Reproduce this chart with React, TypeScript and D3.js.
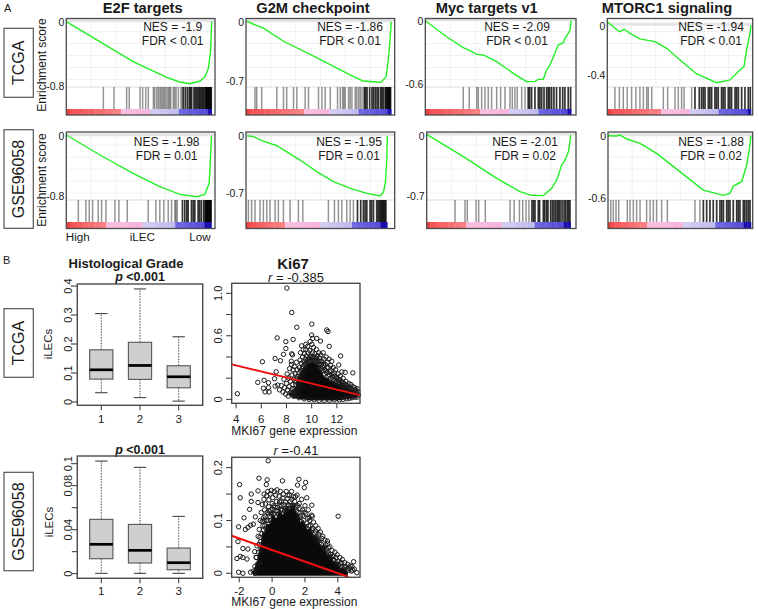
import React from 'react';
import * as d3 from 'd3';

const FONT = '"Liberation Sans", Arial, sans-serif';

// ---- GSEA panels: running score as [rank %, score] ----
const e2fTcga = [[0, 0], [23, -0.249], [46, -0.497], [69, -0.692], [78, -0.75], [85, -0.771], [92, -0.738], [95.4, -0.684], [97.7, -0.58], [99.3, -0.352], [100, 0]];
const g2mTcga = [[0, 0.01], [4.8, -0.027], [11.7, -0.074], [25.5, -0.228], [48.9, -0.428], [71.6, -0.629], [80.5, -0.7], [90.1, -0.712], [92.9, -0.715], [96.3, -0.653], [97.4, -0.535], [98.6, -0.334], [100, 0]];
const mycTcga = [[0, 0], [14.6, -0.152], [26, -0.256], [30.6, -0.284], [35.2, -0.319], [39.7, -0.325], [48.9, -0.388], [60.3, -0.499], [69.4, -0.578], [75.1, -0.575], [77.4, -0.556], [80.8, -0.556], [83.1, -0.467], [85.4, -0.42], [88.8, -0.309], [91.1, -0.231], [94.5, -0.209], [95.6, -0.167], [97.9, -0.12], [99.1, -0.088], [100, 0]];
const mtorTcga = [[0, 0.029], [4.2, -0.011], [8.4, -0.051], [10, -0.043], [11.8, -0.032], [15.8, -0.064], [22.7, -0.109], [33.2, -0.131], [41.3, -0.184], [50.6, -0.277], [62.2, -0.389], [76.1, -0.459], [85.4, -0.437], [92.3, -0.357], [95.1, -0.331], [96.9, -0.197], [99.3, -0.064], [100, 0]];
const e2fGse = [[0, 0.009], [23.2, -0.256], [46, -0.5], [64.4, -0.676], [78.2, -0.778], [89.7, -0.809], [95.4, -0.778], [98.4, -0.632], [99.3, -0.3], [100, 0]];
const g2mGse = [[0.9, 0], [5.2, -0.012], [12.3, -0.066], [21.8, -0.123], [38.3, -0.299], [50.1, -0.442], [61.9, -0.565], [73.8, -0.647], [85.6, -0.708], [95, -0.741], [97.4, -0.688], [98.7, -0.565], [99.7, -0.278], [100, 0]];
const mycGse = [[0, 0.008], [25.5, -0.249], [48.6, -0.497], [64.8, -0.65], [72.9, -0.692], [81, -0.696], [86.8, -0.612], [90.3, -0.516], [93.8, -0.344], [96.1, -0.287], [98.4, -0.191], [99.5, -0.077], [100, 0]];
const mtorGse = [[0, 0], [6.1, -0.003], [8.4, 0.006], [13.1, -0.032], [22.4, -0.074], [34, -0.171], [50.3, -0.348], [66.6, -0.526], [80.6, -0.577], [85.3, -0.558], [87.6, -0.487], [93.5, -0.445], [97, -0.284], [98.9, -0.123], [100, 0]];

// gene hit ranks, the right ends overlap until they turn black
const e2fTcgaHits = [25.5, 32.8, 41.5, 43.3, 50.7, 52.5, 54.6, 56.4, 59.9, 60.8, 62.2, 63.3, 64.4, 65.3, 66.3, 67.2, 68.1, 69.2, 70.2, 71, 71.8, 73.6, 74.5, 75.5, 77.1, 78.9, 79.8, 80.5, 81.9, 83.3, 84.6, 85.4, 86.2, 87.8, 88.7, 89.7, 90.6, 91.5, 92.2, 93.1, 93.9, 94.7, 95.6, 96.1, 96.6, 97, 97.5, 98, 98.4, 98.9, 99.3, 99.7];
const g2mTcgaHits = [6.2, 7.4, 10.8, 21.2, 25.8, 28, 32.7, 35, 40.7, 43, 49.9, 52.2, 54.5, 58, 63, 64.9, 66.5, 67.4, 68.3, 70.6, 71.7, 72.9, 75.2, 76.2, 77.5, 78.6, 79.8, 81.4, 82.3, 83.3, 85.1, 86.7, 87.8, 89, 90.2, 91.3, 92.8, 93.6, 94.5, 95.8, 96.4, 97, 97.6, 98, 98.6, 99, 99.5];
const mycTcgaHits = [26, 30.1, 35.2, 36.3, 38.6, 40.9, 43.1, 45.4, 48.9, 51.6, 54.6, 58, 59.6, 61.4, 63, 66, 68.3, 70.5, 71.5, 72.8, 75.1, 77.4, 78.5, 79.7, 81.3, 83.1, 84.2, 85.2, 86.5, 88.1, 89.9, 92.2, 94.1, 95.6, 97.9, 99.5];
const mtorTcgaHits = [5.3, 8.4, 11.1, 13.9, 16.9, 19.9, 22.7, 25.1, 27.4, 28.5, 30.9, 39, 42, 47.1, 49.4, 51.7, 53.4, 58.7, 61, 64, 65.6, 66.8, 68, 70.3, 71.4, 72.6, 74.9, 76, 77.2, 79.5, 80.6, 81.9, 84.2, 85.3, 86.5, 88.9, 90, 91.2, 93.5, 95.8, 98.1, 99.5];
const e2fGseHits = [8.3, 13.5, 15.8, 18.1, 22, 24.3, 27.3, 33.5, 36.2, 42, 56.4, 61.7, 64.4, 67.2, 70.2, 72.5, 74.8, 75.5, 76.4, 80, 81.6, 83, 83.9, 86.2, 87.4, 88.5, 90.8, 91.9, 93.1, 94.7, 95.6, 96.2, 96.6, 97, 97.5, 98, 98.4, 98.9, 99.3, 99.7];
const g2mGseHits = [1.7, 4, 6.4, 9.9, 12.3, 14.7, 17, 20.6, 22.9, 26.5, 31.2, 37.1, 40.2, 58.3, 62.6, 65.4, 67.8, 71.3, 73.7, 76, 78.9, 81.2, 83.1, 84.3, 85.5, 87.8, 88.9, 90.2, 92.5, 93.5, 94.5, 95.3, 96, 96.8, 97.5, 98.2, 99];
const mycGseHits = [19.7, 26.6, 28.2, 34.3, 36.1, 40.7, 57.9, 60.7, 64.4, 66.7, 69, 71, 73.1, 74.2, 75.2, 77.5, 78.4, 81, 82, 83.3, 84.2, 86.1, 87.3, 88.4, 89.6, 90.7, 91.7, 92.6, 94, 95.4, 96.5, 97.7, 98.6, 99.5];
const mtorGseHits = [1.9, 3.7, 5.6, 7.5, 13.5, 15.4, 17.7, 20, 22.4, 27, 29.4, 31.7, 34, 37.5, 41.5, 60.8, 64.3, 66.7, 69, 71.3, 73.6, 76, 78.3, 79.5, 80.7, 83, 84.1, 85.3, 87.6, 90, 91.1, 92.3, 94.6, 95.7, 97, 98.2, 99.3];

// ---- boxplots: low whisker, q1, median, q3, high whisker ----
const gradeLabels = ['1', '2', '3'];
const gradeTcga = [[0.032, 0.079, 0.111, 0.18, 0.305], [0.015, 0.078, 0.126, 0.206, 0.39], [0.003, 0.049, 0.087, 0.125, 0.225]];
const gradeGse = [[0.0003, 0.0136, 0.0267, 0.0494, 0.1024], [0.0003, 0.0097, 0.0212, 0.0448, 0.0967], [0.0003, 0.0036, 0.01, 0.0233, 0.0521]];

// ---- scatter: outliers, then the crowded fringe, read as [x, y] ----
const ki67TcgaLoose = [[4.1, 0.053], [8.03, 1.05], [8.42, 0.82], [8.82, 0.68], [10.01, 0.71], [11.2, 0.655], [11.3, 0.64], [7.26, 0.58], [7.95, 0.545], [8.53, 0.565], [6.09, 0.355], [7.1, 0.385], [7.52, 0.365], [7.76, 0.425], [7.95, 0.48], [8.42, 0.43], [8.48, 0.42], [5.72, 0.16], [6.22, 0.18], [6.57, 0.157], [6.17, 0.105], [6.3, 0.07], [6.62, 0.07], [6.57, 0.11], [7.05, 0.195], [7.18, 0.26], [7.1, 0.125], [7.31, 0.135], [12.3, 0.41], [11.4, 0.5], [12.15, 0.325], [13.27, 0.25], [12.66, 0.255], [12.4, 0.26], [10, 0.607], [10.08, 0.575], [10.4, 0.575], [10.7, 0.55], [9.88, 0.545], [9.54, 0.52], [9.2, 0.505]];
const ki67TcgaDense = [
  [7.45, 0.09], [7.6, 0.13], [7.72, 0.07], [7.8, 0.19], [7.85, 0.11], [7.93, 0.05], [8, 0.15], [8.05, 0.24], [8.08, 0.09], [8.14, 0.03], [8.18, 0.2], [8.2, 0.12], [8.25, 0.29], [8.3, 0.06], [8.33, 0.17], [8.38, 0.36], [8.4, 0.33], [8.44, 0.23], [8.46, 0.1], [8.5, 0.14], [8.52, 0.28], [8.58, 0.19], [8.6, 0.04], [8.62, 0.31], [8.66, 0.08], [8.7, 0.24], [8.74, 0.14], [8.8, 0.35], [8.82, 0.2], [8.85, 0.28], [8.9, 0.11], [8.93, 0.05], [8.97, 0.17], [9, 0.25], [9.03, 0.3], [9.07, 0.37], [9.12, 0.44], [9.15, 0.22], [9.2, 0.34], [9.25, 0.29], [9.28, 0.4], [9.33, 0.47], [9.38, 0.36], [9.42, 0.43], [9.5, 0.38], [9.53, 0.47], [9.58, 0.41], [9.63, 0.36], [9.68, 0.5], [9.72, 0.44], [9.78, 0.39], [9.85, 0.46], [9.9, 0.41], [9.95, 0.37], [10.02, 0.52], [10.05, 0.44], [10.1, 0.4], [10.15, 0.49], [10.2, 0.37], [10.27, 0.43], [10.33, 0.39], [10.38, 0.47], [10.45, 0.41], [10.52, 0.36], [10.56, 0.44], [10.62, 0.39], [10.68, 0.33], [10.72, 0.42], [10.8, 0.36], [10.85, 0.31], [10.92, 0.44], [10.98, 0.38], [11.03, 0.28], [11.08, 0.33], [11.15, 0.4], [11.2, 0.25], [11.25, 0.35], [11.33, 0.3], [11.38, 0.38], [11.42, 0.23], [11.5, 0.32], [11.55, 0.27], [11.6, 0.36], [11.65, 0.21], [11.72, 0.3], [11.78, 0.25], [11.85, 0.18], [11.9, 0.28], [11.96, 0.21], [12.03, 0.17], [12.1, 0.24], [12.15, 0.19], [12.22, 0.15], [12.28, 0.22], [12.35, 0.17], [12.42, 0.13], [12.5, 0.2], [12.57, 0.15], [12.65, 0.11], [12.72, 0.17], [12.8, 0.13], [12.88, 0.1], [12.95, 0.15], [13.05, 0.11], [13.12, 0.14], [13.2, 0.09], [13.28, 0.12], [13.35, 0.07], [13.42, 0.11], [13.5, 0.09], [13.56, 0.05], [13.62, 0.1], [13.68, 0.07], [13.72, 0.04], [13.6, 0.02], [13.4, 0.02], [13.2, 0.015], [13, 0.01], [12.8, 0.005], [12.5, 0], [12.2, -0.005], [11.8, -0.005], [11.4, -0.008], [11, -0.01], [10.6, -0.01], [10.2, -0.005], [9.8, 0], [9.4, 0.005], [9, 0.015], [8.7, 0.03],
  [8.6, 0.1], [8.75, 0.17], [8.85, 0.08], [8.9, 0.22], [8.95, 0.14], [9.05, 0.2], [9.1, 0.12], [9.15, 0.27], [9.22, 0.24], [9.3, 0.31], [9.35, 0.26], [9.45, 0.33], [9.5, 0.29], [9.55, 0.34], [9.65, 0.33], [9.7, 0.37], [9.82, 0.36], [9.9, 0.36], [9.97, 0.4], [10.08, 0.37], [10.18, 0.4], [10.25, 0.36], [10.35, 0.36], [10.42, 0.37], [10.5, 0.33], [10.58, 0.3], [10.65, 0.36], [10.75, 0.29], [10.78, 0.33], [10.88, 0.27], [10.95, 0.32], [11, 0.24], [11.12, 0.27], [11.22, 0.3], [11.3, 0.22], [11.45, 0.26], [11.52, 0.2], [11.62, 0.24], [11.7, 0.19], [11.82, 0.22], [11.92, 0.16], [12, 0.2], [12.12, 0.16], [12.25, 0.18], [12.32, 0.13], [12.45, 0.16], [12.55, 0.12], [12.68, 0.14], [12.78, 0.1], [12.9, 0.12], [13, 0.08], [13.15, 0.1], [13.25, 0.06], [13.4, 0.08], [13.55, 0.07], [8.45, 0.06], [8.55, 0.03],
];
const ki67TcgaCoreX = [8.29, 8.5, 8.69, 8.82, 8.95, 9.1, 9.27, 9.45, 9.62, 9.8, 10.01, 10.2, 10.41, 10.58, 10.75, 10.9, 11.07, 11.27, 11.47, 11.72, 12, 12.25, 12.53, 12.8, 13.06, 13.32, 13.59];
const ki67TcgaCoreLow = [0.04, 0.03, 0.025, 0.02, 0.015, 0.01, 0.008, 0.006, 0.005, 0.002, 0, 0, 0, 0, 0, 0, 0, 0, 0, 0, 0, 0.002, 0.005, 0.01, 0.015, 0.02, 0.025];
const ki67TcgaCoreHigh = [0.057, 0.06, 0.104, 0.12, 0.198, 0.2, 0.277, 0.29, 0.33, 0.33, 0.349, 0.335, 0.33, 0.285, 0.261, 0.215, 0.198, 0.19, 0.167, 0.165, 0.142, 0.138, 0.12, 0.112, 0.088, 0.072, 0.047];
const ki67TcgaFit = [[3.65, 0.33], [13.84, 0.04]];

const ki67GseLoose = [[-0.24, 0.213], [-0.8, 0.18], [-0.3, 0.177], [-0.35, 0.168], [-1.98, 0.168], [-1.94, 0.143], [0.63, 0.175], [1.63, 0.178], [2.04, 0.172], [1.55, 0.167], [1.96, 0.162], [2.11, 0.143], [2.42, 0.129], [2.45, 0.108], [4.02, 0.108], [3.37, 0.061], [-1.71, 0.105], [-2.04, 0.088], [-1.63, 0.083], [-1.47, 0.087], [-1.31, 0.091], [-1.14, 0.093], [-1.37, 0.121], [-1.27, 0.15], [-1.27, 0.136], [-0.86, 0.156], [-0.86, 0.134], [-1.02, 0.107], [-0.49, 0.15], [-2.08, 0.06], [-1.78, 0.047], [-1.47, 0.046], [-1.06, 0.041], [-2.14, 0.028], [-1.94, 0.032], [-1.78, 0.03], [-1.53, 0.027], [-2.04, 0.002], [-1.78, 0], [-1.31, 0.002], [-1.06, 0.001], [4.96, 0.022], [5.16, 0.001], [4.86, 0.013]];
const ki67GseDense = [
  [-1.15, 0.004], [-1.05, 0.013], [-0.98, 0.03], [-0.92, 0.052], [-0.9, 0.01], [-0.85, 0.07], [-0.82, 0.04], [-0.78, 0.083], [-0.75, 0.02], [-0.72, 0.1], [-0.7, 0.06], [-0.66, 0.115], [-0.62, 0.075], [-0.6, 0.13], [-0.56, 0.09], [-0.52, 0.105], [-0.5, 0.14], [-0.46, 0.12], [-0.44, 0.09], [-0.4, 0.131], [-0.36, 0.1], [-0.33, 0.147], [-0.3, 0.115], [-0.26, 0.155], [-0.22, 0.126], [-0.2, 0.139], [-0.15, 0.108], [-0.12, 0.15], [-0.08, 0.12], [-0.05, 0.157], [0, 0.132], [0.04, 0.143], [0.08, 0.113], [0.13, 0.155], [0.18, 0.125], [0.22, 0.148], [0.27, 0.136], [0.3, 0.158], [0.36, 0.118], [0.42, 0.146], [0.47, 0.128], [0.5, 0.155], [0.56, 0.137], [0.62, 0.12], [0.68, 0.15], [0.72, 0.13], [0.8, 0.122], [0.86, 0.155], [0.92, 0.141], [0.98, 0.13], [1.05, 0.148], [1.1, 0.136], [1.18, 0.155], [1.25, 0.128], [1.3, 0.145], [1.38, 0.136], [1.45, 0.125], [1.52, 0.148], [1.58, 0.115], [1.65, 0.132], [1.72, 0.108], [1.8, 0.14], [1.85, 0.12], [1.92, 0.1], [2, 0.128], [2.05, 0.113], [2.12, 0.095], [2.2, 0.12], [2.26, 0.105], [2.32, 0.09], [2.4, 0.11], [2.45, 0.082], [2.52, 0.097], [2.6, 0.076], [2.66, 0.09], [2.72, 0.07], [2.8, 0.085], [2.86, 0.062], [2.94, 0.078], [3, 0.055], [3.08, 0.07], [3.16, 0.05], [3.22, 0.063], [3.3, 0.045], [3.38, 0.056], [3.45, 0.036], [3.52, 0.05], [3.6, 0.03], [3.66, 0.043], [3.74, 0.026], [3.82, 0.04], [3.9, 0.02], [3.96, 0.035], [4.05, 0.016], [4.12, 0.03], [4.2, 0.013], [4.28, 0.026], [4.35, 0.008], [4.42, 0.02], [4.5, 0.012], [4.6, 0.017], [4.66, 0.006], [4.75, 0.014], [4.82, 0.004], [5, 0.008],
  [-0.95, 0.03], [-0.88, 0.018], [-0.8, 0.055], [-0.74, 0.068], [-0.68, 0.045], [-0.6, 0.098], [-0.54, 0.082], [-0.48, 0.1], [-0.42, 0.108], [-0.38, 0.085], [-0.28, 0.1], [-0.24, 0.112], [-0.18, 0.118], [-0.1, 0.1], [-0.03, 0.112], [0.02, 0.122], [0.1, 0.128], [0.15, 0.112], [0.24, 0.118], [0.33, 0.125], [0.4, 0.112], [0.45, 0.135], [0.52, 0.12], [0.6, 0.128], [0.66, 0.142], [0.75, 0.118], [0.82, 0.135], [0.9, 0.122], [0.95, 0.148], [1.02, 0.128], [1.14, 0.128], [1.2, 0.14], [1.33, 0.128], [1.42, 0.145], [1.48, 0.118], [1.55, 0.128], [1.62, 0.105], [1.7, 0.122], [1.76, 0.098], [1.88, 0.11], [1.95, 0.115], [2.02, 0.088], [2.15, 0.104], [2.22, 0.09], [2.3, 0.1], [2.38, 0.078], [2.48, 0.085], [2.56, 0.068], [2.64, 0.08], [2.76, 0.062], [2.84, 0.074], [2.9, 0.058], [3.03, 0.066], [3.12, 0.048], [3.26, 0.054], [3.35, 0.04], [3.42, 0.048], [3.56, 0.036], [3.7, 0.032], [3.78, 0.024], [3.88, 0.03], [4, 0.022], [4.16, 0.018], [4.24, 0.02], [4.4, 0.012], [4.55, 0.008], [4.7, 0.01], [4.9, 0.006],
];
const ki67GseCoreX = [-1.1, -0.95, -0.86, -0.75, -0.65, -0.55, -0.45, -0.3, -0.14, 0.05, 0.27, 0.47, 0.67, 0.88, 1.08, 1.27, 1.45, 1.58, 1.69, 1.9, 2.1, 2.3, 2.51, 2.7, 2.92, 3.12, 3.33, 3.53, 3.73, 3.93, 4.14, 4.35, 4.55];
const ki67GseCoreHigh = [0.003, 0.016, 0.022, 0.042, 0.05, 0.075, 0.072, 0.092, 0.09, 0.108, 0.1, 0.117, 0.106, 0.124, 0.118, 0.128, 0.112, 0.112, 0.094, 0.098, 0.08, 0.084, 0.067, 0.07, 0.05, 0.052, 0.034, 0.034, 0.02, 0.02, 0.009, 0.008, 0.001];
const ki67GseCoreFloor = -0.003;
const ki67GseFit = [[-2.46, 0.071], [4.65, -0.007]];

type Panel = {
  x0: number; x1: number; xEnd: number; row: number; title?: string; titleX?: number; curve: number[][]; hits: number[]; dark: number;
  tick: number; tickY: number; zeroY: number; nes: string; fdr: string; textX: number; bands: number[];
};

const rows = [
  { top: 18.5, hitTop: 87, barTop: 109, bottom: 115, textY: [27, 40.7] },
  { top: 132, hitTop: 200, barTop: 222, bottom: 228.5, textY: [141.7, 156] },
];

const panels: Panel[] = [
  { x0: 66.3, x1: 211.7, xEnd: 215, row: 0, title: 'E2F targets', titleX: 142.7, curve: e2fTcga, hits: e2fTcgaHits, dark: 80, tick: -0.8, tickY: 86, zeroY: 21.7, nes: 'NES = -1.9', fdr: 'FDR < 0.01', textX: 172.7, bands: [38, 57.6, 77, 96.6] },
  { x0: 246, x1: 391.3, xEnd: 394.7, row: 0, title: 'G2M checkpoint', titleX: 313, curve: g2mTcga, hits: g2mTcgaHits, dark: 80, tick: -0.7, tickY: 81, zeroY: 21.7, nes: 'NES = -1.86', fdr: 'FDR < 0.01', textX: 350, bands: [39, 58, 78, 96.7] },
  { x0: 425.3, x1: 571.3, xEnd: 576, row: 0, title: 'Myc targets v1', titleX: 486.7, curve: mycTcga, hits: mycTcgaHits, dark: 70, tick: -0.6, tickY: 84, zeroY: 20.7, nes: 'NES = -2.09', fdr: 'FDR < 0.01', textX: 517, bands: [38.6, 57.3, 76.7, 97] },
  { x0: 607.3, x1: 751, xEnd: 752.7, row: 0, title: 'MTORC1 signaling', titleX: 667, curve: mtorTcga, hits: mtorTcgaHits, dark: 60, tick: -0.4, tickY: 75.3, zeroY: 25.3, nes: 'NES = -1.94', fdr: 'FDR < 0.01', textX: 711, bands: [37.8, 57.5, 76.6, 97] },
  { x0: 66.3, x1: 211.5, xEnd: 215, row: 1, curve: e2fGse, hits: e2fGseHits, dark: 80, tick: -0.8, tickY: 196, zeroY: 135.7, nes: 'NES = -1.98', fdr: 'FDR = 0.01', textX: 166.7, bands: [27, 51.4, 76, 95.4] },
  { x0: 246, x1: 387.3, xEnd: 394.7, row: 1, curve: g2mGse, hits: g2mGseHits, dark: 78, tick: -0.7, tickY: 192.7, zeroY: 135.7, nes: 'NES = -1.95', fdr: 'FDR = 0.01', textX: 349, bands: [27.6, 52, 76, 96] },
  { x0: 426.7, x1: 570.7, xEnd: 576, row: 1, curve: mycGse, hits: mycGseHits, dark: 72, tick: -0.7, tickY: 196, zeroY: 135, nes: 'NES = -2.01', fdr: 'FDR = 0.02', textX: 525, bands: [27, 51.4, 75.9, 95.4] },
  { x0: 608, x1: 751, xEnd: 752.7, row: 1, curve: mtorGse, hits: mtorGseHits, dark: 66, tick: -0.6, tickY: 197.7, zeroY: 135.7, nes: 'NES = -1.88', fdr: 'FDR = 0.02', textX: 711, bands: [27, 51.5, 76, 95.8] },
];

const sideLabels = [
  { text: 'TCGA', x: 4, y: 28.3, w: 29.3, h: 69 },
  { text: 'GSE96058', x: 4, y: 129.7, w: 29.3, h: 98.6 },
  { text: 'TCGA', x: 4, y: 308.7, w: 29.3, h: 68.6 },
  { text: 'GSE96058', x: 4, y: 472.3, w: 29.3, h: 98.4 },
];

const Label: React.FC<{ x: number; y: number; size: number; anchor?: string; weight?: string; rotate?: boolean; children: React.ReactNode }> = ({ x, y, size, anchor = 'middle', weight, rotate, children }) => (
  <text x={x} y={y} fontSize={size} textAnchor={anchor} fontWeight={weight} dominantBaseline="central" fill="#1a1a1a"
    transform={rotate ? `rotate(-90 ${x} ${y})` : undefined}>{children}</text>
);

const GseaPanel: React.FC<{ p: Panel }> = ({ p }) => {
  const r = rows[p.row];
  const x = d3.scaleLinear().domain([0, 100]).range([p.x0, p.x1]);
  const y = d3.scaleLinear().domain([p.tick, 0]).range([p.tickY, p.zeroY]);
  const line = d3.line<number[]>().x((d) => x(d[0])).y((d) => y(d[1]));
  const [a, b, c, e] = p.bands;
  const barColor = d3.scaleLinear<string>()
    .domain([0, 2, a, a + 0.01, b, b + 0.01, c, c + 0.01, e, e + 0.01, 100])
    .range(['#dc2c2c', '#f44c4e', '#fb8486', '#f9bfe0', '#f7b4dc', '#d4d0f4', '#bcb9ee', '#6e68e2', '#524ad8', '#1a0fae', '#1a0fae']);
  const barSteps = d3.range(0, 100, 2.5);
  const gridY = d3.range(r.top + 13, r.hitTop, 12);
  const gridX = d3.range(1, 6).map((k) => p.x0 + ((p.xEnd - p.x0) * k) / 6);
  return (
    <g>
      {gridY.map((g) => <line key={g} x1={p.x0} x2={p.xEnd} y1={g} y2={g} stroke="#eeeeee" strokeWidth={0.8} />)}
      {gridX.map((g) => <line key={g} x1={g} x2={g} y1={r.top} y2={r.hitTop} stroke="#eeeeee" strokeWidth={0.8} />)}
      <line x1={p.x0} x2={p.xEnd} y1={y(0) - 1} y2={y(0) - 1} stroke="#e4e4e4" strokeWidth={3} />
      <line x1={p.x0} x2={p.xEnd} y1={r.hitTop} y2={r.hitTop} stroke="#d0d0d0" strokeWidth={0.8} />
      {p.hits.map((h) => (
        <line key={h} x1={x(h)} x2={x(h)} y1={r.hitTop} y2={r.barTop} stroke="#000"
          strokeOpacity={h >= p.dark ? 0.8 : 0.42} strokeWidth={h >= p.dark ? 1.7 : 1.5} />
      ))}
      {barSteps.map((s) => <rect key={s} x={x(s)} y={r.barTop} width={x(s + 2.5) - x(s) + 0.3} height={r.bottom - r.barTop} fill={barColor(s + 1.25)} />)}
      <path d={line(p.curve) ?? ''} fill="none" stroke="#22f022" strokeWidth={1.4} />
      <rect x={p.x0} y={r.top} width={p.xEnd - p.x0} height={r.bottom - r.top} fill="none" stroke="#4a4a4a" strokeWidth={1.3} />
      <Label x={p.x0 - 2} y={y(0) + 0.5} size={10.5} anchor="end">0</Label>
      <Label x={p.x0 - 2} y={y(p.tick)} size={10.5} anchor="end">{p.tick}</Label>
      <Label x={p.textX} y={r.textY[0]} size={12}>{p.nes}</Label>
      <Label x={p.textX} y={r.textY[1]} size={12}>{p.fdr}</Label>
      {p.title && <Label x={p.titleX ?? p.x0} y={8} size={14.7} weight="bold">{p.title}</Label>}
    </g>
  );
};

const Axes: React.FC<{
  box: number[]; x: d3.ScaleLinear<number, number>; y: d3.ScaleLinear<number, number>;
  xTicks: number[]; yTicks: number[]; yLabels: (string | null)[]; xLabels?: string[]; xLabelY: number; yLabelX: number;
}> = ({ box, x, y, xTicks, yTicks, yLabels, xLabels, xLabelY, yLabelX }) => {
  const [l, t, r, b] = box;
  return (
    <g>
      <rect x={l} y={t} width={r - l} height={b - t} fill="none" stroke="#4a4a4a" strokeWidth={1.4} />
      {xTicks.map((v, i) => (
        <g key={v}>
          <line x1={x(v)} x2={x(v)} y1={b} y2={b + 5} stroke="#333" />
          <Label x={x(v)} y={xLabelY} size={11.5}>{xLabels ? xLabels[i] : String(v)}</Label>
        </g>
      ))}
      {yTicks.map((v, i) => (
        <g key={v}>
          <line x1={l - 5.5} x2={l} y1={y(v)} y2={y(v)} stroke="#333" />
          {yLabels[i] && <Label x={yLabelX} y={y(v)} size={11} rotate>{yLabels[i]}</Label>}
        </g>
      ))}
    </g>
  );
};

const BoxPlot: React.FC<{
  stats: number[][]; box: number[]; yDomain: number[]; yTicks: number[]; yLabels: (string | null)[]; xLabelY: number;
}> = ({ stats, box, yDomain, yTicks, yLabels, xLabelY }) => {
  const [l, t, r, b] = box;
  const x = d3.scaleLinear().domain([0.38, 3.62]).range([l, r]);
  const y = d3.scaleLinear().domain(yDomain).range([b, t]);
  const bandW = x(1.3) - x(1);
  const capW = x(1.16) - x(1);
  return (
    <g>
      {stats.map(([lo, q1, med, q3, hi], i) => {
        const c = x(i + 1);
        return (
          <g key={i}>
            <line x1={c} x2={c} y1={y(q3)} y2={y(hi)} stroke="#555" strokeDasharray="1.6 1.2" />
            <line x1={c} x2={c} y1={y(q1)} y2={y(lo)} stroke="#555" strokeDasharray="1.6 1.2" />
            <line x1={c - capW} x2={c + capW} y1={y(hi)} y2={y(hi)} stroke="#444" strokeWidth={1.1} />
            <line x1={c - capW} x2={c + capW} y1={y(lo)} y2={y(lo)} stroke="#444" strokeWidth={1.1} />
            <rect x={c - bandW} y={y(q3)} width={bandW * 2} height={y(q1) - y(q3)} fill="#cfcfcf" stroke="#555" strokeWidth={1.1} />
            <line x1={c - bandW} x2={c + bandW} y1={y(med)} y2={y(med)} stroke="#000" strokeWidth={2.7} />
          </g>
        );
      })}
      <Axes box={box} x={x} y={y} xTicks={[1, 2, 3]} xLabels={gradeLabels} yTicks={yTicks} yLabels={yLabels} xLabelY={xLabelY} yLabelX={67.7} />
    </g>
  );
};

const Scatter: React.FC<{
  points: number[][]; coreX: number[]; coreLow: number[]; coreHigh: number[]; fit: number[][]; box: number[]; xDomain: number[]; yDomain: number[];
  xTicks: number[]; yTicks: number[]; yLabels: (string | null)[]; xLabelY: number;
}> = ({ points, coreX, coreLow, coreHigh, fit, box, xDomain, yDomain, xTicks, yTicks, yLabels, xLabelY }) => {
  const [l, t, r, b] = box;
  const x = d3.scaleLinear().domain(xDomain).range([l, r]);
  const y = d3.scaleLinear().domain(yDomain).range([b, t]);
  // solid black where the circles pile on top of each other
  const coreArea = d3.area<number>().x((d) => x(d)).y0((_, i) => y(coreLow[i])).y1((_, i) => y(coreHigh[i]));
  const fitLine = d3.line<number[]>().x((d) => x(d[0])).y((d) => y(d[1]));
  return (
    <g>
      <path d={coreArea(coreX) ?? ''} fill="#0a0a0a" stroke="#0a0a0a" strokeWidth={2} />
      {points.map(([px, py], i) => <circle key={i} cx={x(px)} cy={y(py)} r={2.2} fill="none" stroke="#1a1a1a" strokeWidth={1} />)}
      <path d={fitLine(fit) ?? ''} stroke="#f01010" strokeWidth={2} fill="none" />
      <Axes box={box} x={x} y={y} xTicks={xTicks} yTicks={yTicks} yLabels={yLabels} xLabelY={xLabelY} yLabelX={218} />
    </g>
  );
};

export default function App() {
  return (
    <svg width={758} height={609} style={{ position: 'absolute', left: 0, top: 0, background: '#fff' }} fontFamily={FONT}>
      <Label x={4} y={8} size={11} anchor="start">A</Label>
      <Label x={3} y={260} size={11} anchor="start">B</Label>

      {sideLabels.map((s, i) => (
        <g key={i}>
          <rect x={s.x} y={s.y} width={s.w} height={s.h} fill="#fff" stroke="#555" strokeWidth={1.2} />
          <Label x={s.x + s.w / 2} y={s.y + s.h / 2} size={16} rotate>{s.text}</Label>
        </g>
      ))}

      <Label x={42} y={65} size={12} rotate>Enrichment score</Label>
      <Label x={42} y={180} size={12} rotate>Enrichment score</Label>

      {panels.map((p, i) => <GseaPanel key={i} p={p} />)}

      <Label x={65.7} y={236.7} size={11.7} anchor="start">High</Label>
      <Label x={142.3} y={236.7} size={11.7}>iLEC</Label>
      <Label x={210.7} y={236.7} size={11.7} anchor="end">Low</Label>

      <Label x={126} y={263} size={13} weight="bold">Histological Grade</Label>
      <Label x={140} y={276.7} size={12.5} weight="bold"><tspan fontStyle="italic">p</tspan> {'<0.001'}</Label>
      <Label x={293} y={263} size={15} weight="bold">Ki67</Label>
      <Label x={296} y={277} size={13}><tspan fontStyle="italic">r</tspan> = -0.385</Label>
      <Label x={48} y={344} size={11.5} rotate>iLECs</Label>
      <BoxPlot stats={gradeTcga} box={[77.3, 284, 202.7, 405.3]} yDomain={[-0.0114, 0.407]} yTicks={[0, 0.1, 0.2, 0.3, 0.4]}
        yLabels={['0', '0.1', '0.2', '0.3', '0.4']} xLabelY={419} />
      <Scatter points={[...ki67TcgaLoose, ...ki67TcgaDense]} coreX={ki67TcgaCoreX} coreLow={ki67TcgaCoreLow} coreHigh={ki67TcgaCoreHigh} fit={ki67TcgaFit} box={[231.7, 283.3, 360, 403.3]}
        xDomain={[3.65, 13.84]} yDomain={[-0.037, 1.095]} xTicks={[4, 6, 8, 10, 12]} yTicks={[0, 0.2, 0.4, 0.6, 0.8, 1]}
        yLabels={['0', null, null, '0.6', null, '1.0']} xLabelY={419} />
      <Label x={294.3} y={431} size={12}>MKI67 gene expression</Label>

      <Label x={140} y={450} size={12.5} weight="bold"><tspan fontStyle="italic">p</tspan> {'<0.001'}</Label>
      <Label x={296} y={450} size={13}><tspan fontStyle="italic">r</tspan> =-0.41</Label>
      <Label x={49} y={522} size={11.5} rotate>iLECs</Label>
      <BoxPlot stats={gradeGse} box={[77.3, 456, 202.7, 578.3]} yDomain={[-0.0042, 0.107]} yTicks={[0, 0.02, 0.04, 0.06, 0.08, 0.1]}
        yLabels={['0', null, '0.04', null, '0.08', '0.1']} xLabelY={590.5} />
      <Scatter points={[...ki67GseLoose, ...ki67GseDense]} coreX={ki67GseCoreX} coreLow={ki67GseCoreX.map(() => ki67GseCoreFloor)} coreHigh={ki67GseCoreHigh} fit={ki67GseFit} box={[231.7, 457.3, 360, 577.3]}
        xDomain={[-2.46, 5.35]} yDomain={[-0.0076, 0.2196]} xTicks={[-2, 0, 2, 4]} yTicks={[0, 0.05, 0.1, 0.15, 0.2]}
        yLabels={['0', null, '0.1', null, '0.2']} xLabelY={590.5} />
      <Label x={294.3} y={602} size={12}>MKI67 gene expression</Label>
    </svg>
  );
}
